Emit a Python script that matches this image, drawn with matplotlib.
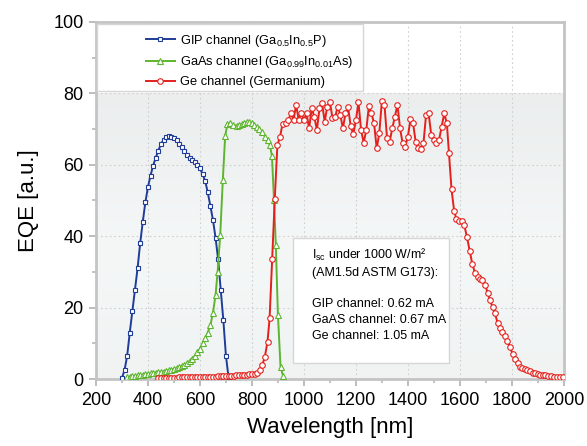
import numpy as np
import matplotlib
matplotlib.use('Agg')
from matplotlib import pyplot as plt
from matplotlib.patches import Rectangle

plt.rcParams['font.family'] = ['Liberation Sans', 'DejaVu Sans']
plt.rcParams['mathtext.fontset'] = 'custom'
plt.rcParams['mathtext.rm'] = 'Liberation Sans'
plt.rcParams['mathtext.it'] = 'Liberation Sans:italic'

# GIP channel (Ga0.5In0.5P)
gip_wl = list(range(300, 711, 10))
gip_eqe = [0.3, 2.5, 6.5, 13, 19, 25, 31, 38, 44, 49.5, 53.8, 57, 59.8, 62, 64, 65.8,
           67, 67.9, 68.1, 67.8, 67.5, 66.9, 65.8, 65, 63.8, 62.7, 62, 61.4, 60.7, 59.9,
           59.0, 57.4, 55.5, 52.3, 48.5, 44.6, 39.6, 33.5, 25, 16.5, 6.5, 0.5]

# GaAs channel (Ga0.99In0.01As)
gaas_wl = list(range(320, 631, 10)) + [640, 650, 660, 668, 678, 688, 697, 706, 715, 728,
           741, 751, 760, 770, 780, 790, 799, 808, 818, 828, 838, 850, 860, 869, 877, 885,
           892, 900, 910, 920]
gaas_eqe = [0.5, 0.6, 0.8, 0.9, 1.0, 1.1, 1.2, 1.4, 1.5, 1.6, 1.7, 1.8, 1.9, 2.0, 2.1, 2.2,
            2.4, 2.6, 2.8, 3.0, 3.3, 3.6, 4.0, 4.5, 5.0, 5.7, 6.5, 7.5, 8.5, 10, 11.5, 13,
            15, 18.5, 23.5, 30, 40.3, 55.7, 68, 71.5, 71.6, 71.1, 71.0, 71.2, 71.3, 71.8,
            71.9, 72, 71.6, 71.1, 70.7, 69.9, 69.3, 67.9, 67.0, 65.5, 62.5, 50, 37.5, 18,
            3.5, 0.8]

# Ge channel (Germanium)
ge_wl = list(range(440, 811, 10)) + [820, 830, 840, 850, 860, 868, 878, 888, 898, 908, 918,
         930, 940, 950, 960, 970, 980] + list(range(990, 1551, 10)) + [1558, 1568, 1578,
         1587, 1597, 1608, 1617, 1627, 1638, 1648, 1658, 1668, 1677, 1687, 1697, 1707, 1716,
         1726, 1735, 1745, 1754, 1764, 1773, 1783, 1792, 1803, 1812, 1822, 1831, 1841, 1850,
         1860, 1869, 1880, 1888, 1899, 1908, 1918, 1927, 1938, 1950, 1962, 1974, 1985, 1996]
ge_eqe = [0.3, 0.3, 0.3, 0.3, 0.4, 0.4, 0.4, 0.4, 0.5, 0.5, 0.5, 0.5, 0.5, 0.6, 0.6, 0.6,
          0.6, 0.6, 0.7, 0.7, 0.7, 0.7, 0.7, 0.8, 0.8, 0.8, 0.8, 0.9, 0.9, 0.9, 1.0, 1.0,
          1.1, 1.1, 1.2, 1.3, 1.4, 1.5,
          1.8, 2.6, 3.9, 6.3, 10.5, 17, 33.5, 50.5, 65.5, 67.8, 71.5,
          71.6, 72.5, 74.4, 72.5, 76.8, 72.5,
          74.6, 72.5, 74.4, 70.2, 75.8, 73.5, 69.7, 75.8, 77.2, 72.1, 76.3, 77.7, 73, 73.3,
          76.3, 74, 70.2, 74.4, 76.1, 70.9, 68.5, 72.5, 77.5, 69.7, 66.2, 69.7, 76.5, 74.4,
          71.6, 64.6, 68.8, 77.9, 76.8, 67.4, 66.5, 70.2, 73.5, 76.8, 70.2, 66, 65.1, 67.9,
          72.7, 71.6, 66.5, 64.6, 64.3, 66, 74, 74.4, 68.3, 67, 66, 67, 70.7, 74.4, 71.6,
          63.2, 53.1, 47.1, 44.7, 44.3, 44.3, 43.1, 39.9, 35.9, 32.2, 29.8, 28.7, 27.9,
          27.7, 26.4, 24.2, 22.1, 20.1, 18.4, 15.8, 14.2, 13.1, 12, 10.6, 9, 7, 5.5, 4.4,
          3.4, 3.0, 2.7, 2.5, 2.2, 1.8, 1.6, 1.4, 1.1, 1.2, 1.1, 0.8, 0.8, 0.7, 0.7, 0.6, 0.5]

labels = [r'GIP channel (Ga$_{0.5}$In$_{0.5}$P)',
          r'GaAs channel (Ga$_{0.99}$In$_{0.01}$As)',
          'Ge channel (Germanium)']
isc_text = ('I$_{\\mathrm{sc}}$ under 1000 W/m\u00b2\n(AM1.5d ASTM G173):\n\n'
            'GIP channel: 0.62 mA\nGaAS channel: 0.67 mA\nGe channel: 1.05 mA')

fig = plt.figure(figsize=(5.87, 4.46), dpi=100)
ax = fig.add_axes([0.1635, 0.1502, 0.797, 0.8005])

# light background below 80
grad = np.array([[0.935], [0.978], [0.955]])
bg = np.ones((3, 1, 3)) * grad[:, :, None]
bg[:, :, 0] -= 0.01
ax.imshow(bg, extent=[200, 2000, 0, 80], aspect='auto', zorder=0, interpolation='bicubic')

ax.plot(gip_wl, gip_eqe, '-s', color='#1f3c98', lw=1.4, ms=3.4, mfc='white', mew=0.8,
        label=labels[0], zorder=3)
ax.plot(gaas_wl, gaas_eqe, '-^', color='#5db52f', lw=1.4, ms=3.8, mfc='white', mew=0.8,
        label=labels[1], zorder=3)
ax.plot(ge_wl, ge_eqe, '-o', color='#e3201b', lw=1.4, ms=4.0, mfc='white', mew=0.8,
        label=labels[2], zorder=4)

ax.set_xlim(200, 2000)
ax.set_ylim(0, 100)
ax.set_xticks(range(200, 2001, 200))
ax.set_xticks(range(300, 2000, 200), minor=True)
ax.set_yticks(range(0, 101, 20))
ax.set_yticks(range(10, 100, 20), minor=True)
ax.grid(True, which='major', ls=(0, (1.5, 2.5)), color='#cfcfcf', lw=0.8, zorder=1)
ax.set_axisbelow(True)
for s in ax.spines.values():
    s.set_color('#c4c4c4')
    s.set_linewidth(2)
ax.tick_params(which='major', length=5, width=1.3, color='#b8b8b8', labelsize=13, pad=4)
ax.tick_params(which='minor', length=3, width=1.2, color='#b8b8b8')
ax.set_xlabel('Wavelength [nm]', fontsize=16, labelpad=6)
ax.set_ylabel('EQE [a.u.]', fontsize=16, labelpad=10)

ax.add_patch(Rectangle((0.002, 0.807), 0.569, 0.187, transform=ax.transAxes,
                       facecolor='white', edgecolor='#d6d6d6', lw=1, zorder=5))
leg = ax.legend(loc='upper left', bbox_to_anchor=(0.095, 0.985), frameon=False,
                fontsize=9.3, handlelength=2.3, handletextpad=0.35, labelspacing=0.45,
                borderaxespad=0)
leg.set_zorder(6)

ax.add_patch(Rectangle((0.421, 0.045), 0.333, 0.35, transform=ax.transAxes,
                       facecolor='white', edgecolor='#d6d6d6', lw=1, zorder=5))
ax.text(0.462, 0.37, isc_text, transform=ax.transAxes, fontsize=9, va='top',
        linespacing=1.42, zorder=6)

plt.savefig('out.png', dpi=100)
